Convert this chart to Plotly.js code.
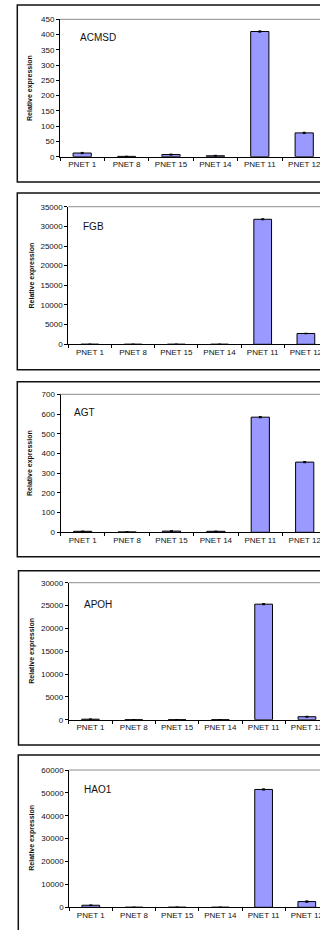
<!DOCTYPE html>
<html>
<head>
<meta charset="utf-8">
<script src="https://cdn.plot.ly/plotly-3.0.1.min.js"></script>
<style>
html,body{margin:0;padding:0;background:#fff;overflow:hidden;}
#chart{width:320px;height:930px;}
</style>
</head>
<body>
<div id="chart"></div>
<script>
var categories = ['PNET 1','PNET 8','PNET 15','PNET 14','PNET 11','PNET 12'];

var acmsdValues = [12, 1, 7, 3, 410, 78];
var acmsdErrors = [2, 0.5, 1.5, 1.5, 2, 2];

var fgbValues = [10, 5, 8, 5, 31800, 2750];
var fgbErrors = [3, 2, 2, 2, 120, 60];

var agtValues = [5, 2, 6, 5, 584, 356];
var agtErrors = [1, 1, 2, 1, 3, 3];

var apohValues = [110, 20, 30, 25, 25300, 650];
var apohErrors = [30, 5, 8, 5, 120, 90];

var hao1Values = [900, 10, 30, 20, 51500, 2500];
var hao1Errors = [120, 5, 8, 5, 250, 300];

var geneNames = ['ACMSD', 'FGB', 'AGT', 'APOH', 'HAO1'];
var yMax = [450, 35000, 700, 30000, 60000];
var yStep = [50, 5000, 100, 5000, 10000];

var W = 320, H = 930;
// pixel geometry per panel
var panels = [
  {x0:60.0, cw:44.4, ytop:19.3,  y0:156.7, bTop:5,     bBot:182,   bLeft:17.3, tx:78,  ty:37,    ax:30,   ay:88},
  {x0:68.3, cw:43.2, ytop:206.7, y0:344.3, bTop:193,   bBot:369.7, bLeft:17.3, tx:81,  ty:226.7, ax:31,   ay:275.5},
  {x0:60.5, cw:44.4, ytop:394.3, y0:532.3, bTop:381.7, bBot:556.7, bLeft:17.3, tx:72.3,ty:412,   ax:30,   ay:463},
  {x0:68.8, cw:43.3, ytop:582.7, y0:719.7, bTop:570.7, bBot:745,   bLeft:18.5, tx:82,  ty:604,   ax:31.7, ay:651},
  {x0:69.2, cw:43.2, ytop:770,   y0:907.3, bTop:755,   bBot:940,   bLeft:18.3, tx:82,  ty:789,   ax:31.7, ay:838}
];
var values = [acmsdValues, fgbValues, agtValues, apohValues, hao1Values];
var errors = [acmsdErrors, fgbErrors, agtErrors, apohErrors, hao1Errors];

function py(p){ return 1 - p / H; }
function px(p){ return p / W; }

var data = [];
var layout = {
  width: W, height: H,
  margin: {l:0, r:0, t:0, b:0},
  paper_bgcolor: '#fff', plot_bgcolor: 'rgba(0,0,0,0)',
  showlegend: false,
  font: {family: 'Liberation Sans, Arial, sans-serif', size: 8, color: '#111'},
  shapes: [], annotations: []
};

panels.forEach(function(p, i){
  var n = i === 0 ? '' : String(i + 1);
  data.push({
    type: 'bar',
    x: categories,
    y: values[i],
    xaxis: 'x' + n, yaxis: 'y' + n,
    width: 0.41,
    marker: {color: '#9999ff', line: {color: '#000', width: 1}},
    error_y: {type: 'data', array: errors[i], visible: true, color: '#000', thickness: 1, width: 1.5},
    hoverinfo: 'none'
  });
  layout['xaxis' + n] = {
    domain: [px(p.x0), 1],
    anchor: 'y' + n,
    type: 'category',
    range: [-0.5, -0.5 + (W - p.x0) / p.cw],
    tickson: 'boundaries',
    ticks: 'outside', ticklen: 3, tickwidth: 1, tickcolor: '#000',
    showline: true, linecolor: '#000', linewidth: 1,
    showgrid: false, zeroline: false, fixedrange: true,
    tickfont: {size: 8, color: '#111'}
  };
  layout['yaxis' + n] = {
    domain: [py(p.y0), py(p.ytop)],
    anchor: 'x' + n,
    range: [0, yMax[i]],
    dtick: yStep[i], tick0: 0,
    tickformat: 'd',
    ticks: 'outside', ticklen: 3, tickwidth: 1, tickcolor: '#000',
    showline: true, linecolor: '#000', linewidth: 1,
    showgrid: false, zeroline: false, fixedrange: true,
    tickfont: {size: 8, color: '#111'}
  };
  // top gridline
  layout.shapes.push({
    type: 'line', xref: 'paper', yref: 'paper',
    x0: px(p.x0), x1: 1, y0: py(p.ytop), y1: py(p.ytop),
    line: {color: '#8c8c8c', width: 1}
  });
  // panel border
  layout.shapes.push({
    type: 'rect', xref: 'paper', yref: 'paper',
    x0: px(p.bLeft), x1: 1.2, y0: py(p.bBot), y1: py(p.bTop),
    line: {color: '#111', width: 1.5}
  });
  layout.annotations.push({
    xref: 'paper', yref: 'paper', x: px(p.tx), y: py(p.ty),
    xanchor: 'left', yanchor: 'middle', showarrow: false,
    text: geneNames[i], font: {size: 10, color: '#111'}
  });
  layout.annotations.push({
    xref: 'paper', yref: 'paper', x: px(p.ax), y: py(p.ay),
    xanchor: 'center', yanchor: 'middle', showarrow: false, textangle: -90,
    text: '<b>Relative expression</b>', font: {size: 7, color: '#111'}
  });
});

Plotly.newPlot('chart', data, layout, {displayModeBar: false, staticPlot: true});
</script>
</body>
</html>
